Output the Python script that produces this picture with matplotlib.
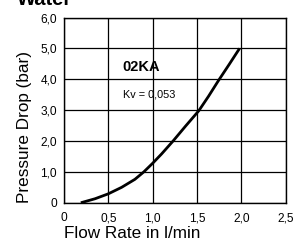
import matplotlib
matplotlib.use("Agg")
import matplotlib.pyplot as plt

flow = [0.19, 0.35, 0.5, 0.65, 0.8, 0.9, 1.0, 1.1, 1.23, 1.37, 1.52, 1.63, 1.74, 1.86, 1.98]
pressure = [0.0, 0.13, 0.29, 0.50, 0.76, 1.0, 1.28, 1.58, 2.0, 2.48, 2.98, 3.45, 3.95, 4.47, 5.0]
x_ticks = [0, 0.5, 1.0, 1.5, 2.0, 2.5]
x_labels = ["0", "0,5", "1,0", "1,5", "2,0", "2,5"]
y_ticks = [0, 1, 2, 3, 4, 5, 6]
y_labels = ["0", "1,0", "2,0", "3,0", "4,0", "5,0", "6,0"]
title = "Water"
model = "02KA"
kv_text = "Kv = 0,053"

plt.rcParams['font.family'] = ['Liberation Sans', 'DejaVu Sans']

fig = plt.figure(figsize=(2.93, 2.44), dpi=100)
ax = fig.add_axes([0.2184, 0.169, 0.975 - 0.2184, 0.928 - 0.169])

ax.plot(flow, pressure, color='black', lw=2.0, solid_capstyle='butt', zorder=3)
ax.set_xlim(0, 2.5)
ax.set_ylim(0, 6)
ax.set_xticks(x_ticks)
ax.set_xticklabels(x_labels)
ax.set_yticks(y_ticks)
ax.set_yticklabels(y_labels)
ax.tick_params(length=0, labelsize=8.6)
ax.tick_params(axis='x', pad=7)
ax.tick_params(axis='y', pad=5)
ax.grid(True, color='black', lw=0.9)
for s in ax.spines.values():
    s.set_linewidth(1.0)
    s.set_color('black')

ax.set_xlabel("Flow Rate in l/min", fontsize=12.3, labelpad=1, loc='left')
ax.set_ylabel("Pressure Drop (bar)", fontsize=12.3, labelpad=6, loc='bottom')

ax.text(0.66, 4.39, model, fontsize=10.5, fontweight='bold', va='center', ha='left')
ax.text(0.66, 3.5, kv_text, fontsize=7.8, va='center', ha='left')

fig.text(17 / 293, 1 - 5 / 244, title, fontsize=14.5, fontweight='bold', va='baseline', ha='left')

fig.savefig("out.png", dpi=100)
